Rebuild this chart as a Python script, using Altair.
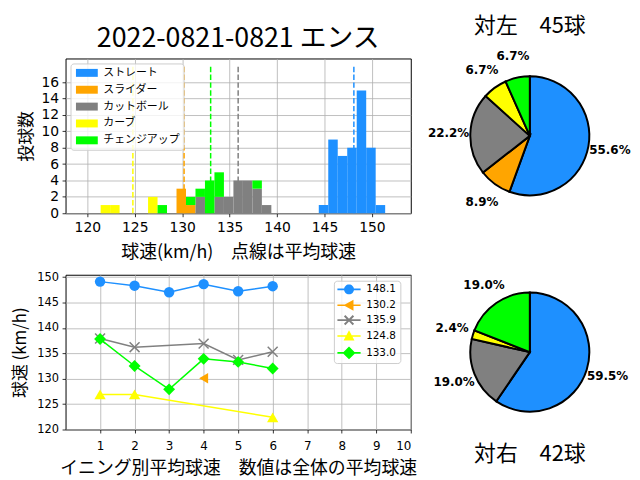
import math
import altair as alt
import pandas as pd

# ---------------- data ----------------
pitch_types = ["ストレート", "スライダー", "カットボール", "カーブ", "チェンジアップ"]
pitch_colors = ["#1E90FF", "#FFA500", "#808080", "#FFFF00", "#00FF00"]

# stacked histogram: left edge of each 1 km/h bin and pitch count in it
straight_bins = [144.4, 145.4, 146.4, 147.4, 148.4, 149.4, 150.4]
straight_counts = [1, 9, 7, 8, 15, 8, 1]
slider_bins = [129.4, 130.4]
slider_counts = [3, 1]
cutter_bins = [131.4, 133.4, 134.4, 135.4, 136.4, 137.4, 138.4]
cutter_counts = [2, 2, 2, 4, 4, 3, 1]
curve_bins = [121.4, 122.4, 126.4]
curve_counts = [1, 1, 2]
change_bins = [127.4, 130.4, 131.4, 132.4, 133.4, 137.4]
change_counts = [1, 1, 1, 4, 3, 1]
bin_width = 1.0

mean_speeds = [148.1, 130.2, 135.9, 124.8, 133.0]
mean_line_top = 18

hist_x_ticks = [120, 125, 130, 135, 140, 145, 150]
hist_y_ticks = [0, 2, 4, 6, 8, 10, 12, 14, 16]

# average speed per inning
straight_innings = [1, 2, 3, 4, 5, 6]
straight_avg = [149.1, 148.3, 147.0, 148.6, 147.2, 148.2]
slider_innings = [4]
slider_avg = [130.1]
cutter_innings = [1, 2, 4, 5, 6]
cutter_avg = [137.9, 136.2, 136.9, 133.7, 135.3]
curve_innings = [1, 2, 6]
curve_avg = [126.9, 126.9, 122.4]
change_innings = [1, 2, 3, 4, 5, 6]
change_avg = [137.8, 132.5, 127.9, 133.9, 133.3, 132.0]

inning_ticks = [1, 2, 3, 4, 5, 6, 7, 8, 9, 10]
speed_ticks = [120, 125, 130, 135, 140, 145, 150]

# pitch counts vs left / right batters
left_counts = [25, 4, 10, 3, 3]
right_counts = [25, 0, 8, 1, 8]

# ---------------- tables ----------------
bins_all = [straight_bins, slider_bins, cutter_bins, curve_bins, change_bins]
counts_all = [straight_counts, slider_counts, cutter_counts, curve_counts, change_counts]
stack_top = {}
hist_rows = []
for i, (t, bl, cl) in enumerate(zip(pitch_types, bins_all, counts_all)):
    for b, c in zip(bl, cl):
        y0 = stack_top.get(b, 0)
        hist_rows.append({"type": t, "idx": i, "lo": b, "hi": b + bin_width, "y0": y0, "y1": y0 + c})
        stack_top[b] = y0 + c
hist_df = pd.DataFrame(hist_rows)

mean_df = pd.DataFrame({"type": pitch_types, "mean": mean_speeds,
                        "zero": [0] * 5, "top": [mean_line_top] * 5})

series_labels = [f"{m:.1f}" for m in mean_speeds]
inn_all = [straight_innings, slider_innings, cutter_innings, curve_innings, change_innings]
avg_all = [straight_avg, slider_avg, cutter_avg, curve_avg, change_avg]
line_rows = []
for lab, il, al in zip(series_labels, inn_all, avg_all):
    for i, a in zip(il, al):
        line_rows.append({"series": lab, "inning": i, "speed": a})
line_df = pd.DataFrame(line_rows)


def pie_df(counts):
    tot = sum(counts)
    rows = []
    for i, (t, c) in enumerate(zip(pitch_types, counts)):
        if c > 0:
            rows.append({"type": t, "idx": i, "count": c, "pct": f"{c / tot * 100:.1f}%"})
    return pd.DataFrame(rows)


left_df = pie_df(left_counts)
right_df = pie_df(right_counts)

JP = "Noto Sans CJK JP"
W, H = 348, 156


# ---------------- marker glyph paths (style) ----------------
def poly(pts):
    return "M" + "L".join(f"{x:.3f},{y:.3f}" for x, y in pts) + "Z"


circle_pts = [(math.cos(2 * math.pi * k / 24), math.sin(2 * math.pi * k / 24)) for k in range(24)]
w, L = 0.2, 1.25
plus_pts = [(-w, -L), (w, -L), (w, -w), (L, -w), (L, w), (w, w), (w, L), (-w, L),
            (-w, w), (-L, w), (-L, -w), (-w, -w)]
x_pts = [((x - y) / math.sqrt(2), (x + y) / math.sqrt(2)) for x, y in plus_pts]
bar_path = "M-2.34,-0.16H2.34V0.16H-2.34Z"
legend_paths = [
    bar_path + poly(circle_pts),
    bar_path + poly([(-1.1, 0), (0.9, -1.1), (0.9, 1.1)]),
    bar_path + poly(x_pts),
    bar_path + poly([(0, -1.15), (1.1, 0.9), (-1.1, 0.9)]),
    bar_path + poly([(0, -1.3), (1.3, 0), (0, 1.3), (-1.3, 0)]),
]

# ---------------- histogram ----------------
hx_scale = alt.Scale(domain=[117.7, 154.1], nice=False, zero=False)
hy_scale = alt.Scale(domain=[0, 18.9], nice=False)
hx_axis = alt.Axis(values=hist_x_ticks, title="球速(km/h)　点線は平均球速",
                   labelFontSize=14, titleFontSize=18, titlePadding=10, labelOverlap=False)
hy_axis = alt.Axis(values=hist_y_ticks, title="投球数", labelFontSize=14, minExtent=0,
                   titleFontSize=17, titlePadding=5.5, labelOverlap=False)
bars = alt.Chart(hist_df).mark_bar().encode(
    x=alt.X("lo:Q", scale=hx_scale, axis=hx_axis), x2="hi:Q",
    y=alt.Y("y0:Q", scale=hy_scale, axis=hy_axis), y2="y1:Q",
    color=alt.Color("type:N", scale=alt.Scale(domain=pitch_types, range=pitch_colors),
                    legend=alt.Legend(title=None, orient="top-left", offset=5, padding=4,
                                      fillColor="rgba(255,255,255,0.8)", strokeColor="#cccccc",
                                      cornerRadius=3, symbolType="M-2.75,-1H2.75V1H-2.75Z",
                                      symbolSize=64, symbolOffset=7, labelOffset=11,
                                      labelFont=JP, labelFontSize=11, rowPadding=5,
                                      symbolStrokeWidth=0)),
    order=alt.Order("idx:Q"),
)
rules = alt.Chart(mean_df).mark_rule(strokeDash=[5.5, 2.4], strokeWidth=1.5).encode(
    x=alt.X("mean:Q", scale=hx_scale, axis=hx_axis),
    y=alt.Y("zero:Q", scale=hy_scale, axis=hy_axis), y2="top:Q",
    stroke=alt.Stroke("type:N", scale=alt.Scale(domain=pitch_types, range=pitch_colors), legend=None),
)
hist = alt.layer(bars, rules).properties(
    width=W, height=H,
    title=alt.Title("2022-0821-0821 エンス", font=JP, fontSize=27, fontWeight="normal",
                    baseline="alphabetic", offset=-15, anchor="middle", color="black"),
)

# ---------------- inning line chart ----------------
lx = alt.X("inning:Q", scale=alt.Scale(domain=[0, 10], nice=False, zero=False),
           axis=alt.Axis(values=inning_ticks, title="イニング別平均球速　数値は全体の平均球速",
                         labelFontSize=12, titleFontSize=18, titlePadding=8, labelPadding=8,
                         labelOverlap=False))
ly = alt.Y("speed:Q", scale=alt.Scale(domain=[120, 150.45], nice=False, zero=False),
           axis=alt.Axis(values=speed_ticks, title="球速 (km/h)", labelFontSize=11.5, minExtent=0,
                         titleFontSize=17, titlePadding=7, labelOverlap=False))
lstroke = alt.Stroke("series:N", scale=alt.Scale(domain=series_labels, range=pitch_colors), legend=None)
lfill = alt.Fill("series:N", scale=alt.Scale(domain=series_labels, range=pitch_colors), legend=None)

# legend carrier (draws nothing itself) goes first so that its legend is the one kept
leg = alt.Legend(title=None, orient="none", legendX=270.5, legendY=6, padding=3.5,
                 fillColor="rgba(255,255,255,0.8)", strokeColor="#cccccc", cornerRadius=3,
                 symbolSize=100, symbolOffset=6.5, labelOffset=12, symbolStrokeWidth=0,
                 symbolOpacity=1, labelFont="DejaVu Sans", labelFontSize=10.5, rowPadding=4)
carrier = alt.Chart(line_df).transform_filter("false").mark_point(filled=True, opacity=1).encode(
    x=lx, y=ly,
    color=alt.Color("series:N", scale=alt.Scale(domain=series_labels, range=pitch_colors), legend=leg),
    shape=alt.Shape("series:N", scale=alt.Scale(domain=series_labels, range=legend_paths), legend=leg),
)
layers = [carrier]

marker_shapes = ["circle", "triangle-left", "M-1,-1L1,1M-1,1L1,-1", "triangle-up", "diamond"]
marker_sizes = [110, 110, 100, 130, 144]
for lab, shp, sz in zip(series_labels, marker_shapes, marker_sizes):
    base = alt.Chart(line_df).transform_filter(alt.datum.series == lab)
    layers.append(base.mark_line(strokeWidth=1.5).encode(x=lx, y=ly, stroke=lstroke))
    if shp.startswith("M"):
        pm = base.mark_point(shape=shp, filled=False, size=sz, strokeWidth=1.5, opacity=1).encode(
            x=lx, y=ly, stroke=lstroke)
    else:
        pm = base.mark_point(shape=shp, filled=True, size=sz, opacity=1).encode(
            x=lx, y=ly, fill=lfill)
    layers.append(pm)

line = alt.layer(*layers).properties(width=W, height=H)


# ---------------- pies ----------------
def pie(df, title, orient, offset):
    base = alt.Chart(df).encode(
        theta=alt.Theta("count:Q", stack=True),
        order=alt.Order("idx:Q"),
    )
    arcs = base.mark_arc(outerRadius=60, stroke="black", strokeWidth=2).encode(
        fill=alt.Fill("type:N", scale=alt.Scale(domain=pitch_types, range=pitch_colors), legend=None))
    txt = base.mark_text(radius=82, font="DejaVu Sans", fontWeight="bold", fontSize=12,
                         align="center", baseline="middle", color="black").encode(text="pct:N")
    return alt.layer(arcs, txt).properties(
        width=150, height=H, view=alt.ViewBackground(stroke="transparent"),
        title=alt.Title(title, font=JP, fontSize=22, fontWeight="normal", orient=orient,
                        baseline="alphabetic", offset=offset, anchor="middle", color="black"),
    )


pie_left = pie(left_df, "対左　45球", "top", -5)
pie_right = pie(right_df, "対右　42球", "bottom", 31.5)

chart = alt.concat(hist, pie_left, line, pie_right, columns=2,
                   spacing={"row": 62, "column": 45}, bounds="flush").resolve_scale(
    color="independent", fill="independent", stroke="independent", shape="independent"
).resolve_legend(
    color="independent", fill="independent", stroke="independent", shape="independent"
).properties(padding={"left": 3, "top": 5, "right": 0, "bottom": 0}).configure(font=JP).configure_view(
    stroke="black", strokeWidth=1
).configure_axis(
    labelFont="DejaVu Sans", labelColor="black", titleFont=JP, titleFontWeight="normal",
    titleColor="black", domain=False, tickColor="black", tickSize=3.5, tickWidth=0.8,
    gridColor="#b0b0b0", gridWidth=0.8, labelPadding=3.5,
)

chart.save("out.html", embed_options={"renderer": "svg", "actions": False})
